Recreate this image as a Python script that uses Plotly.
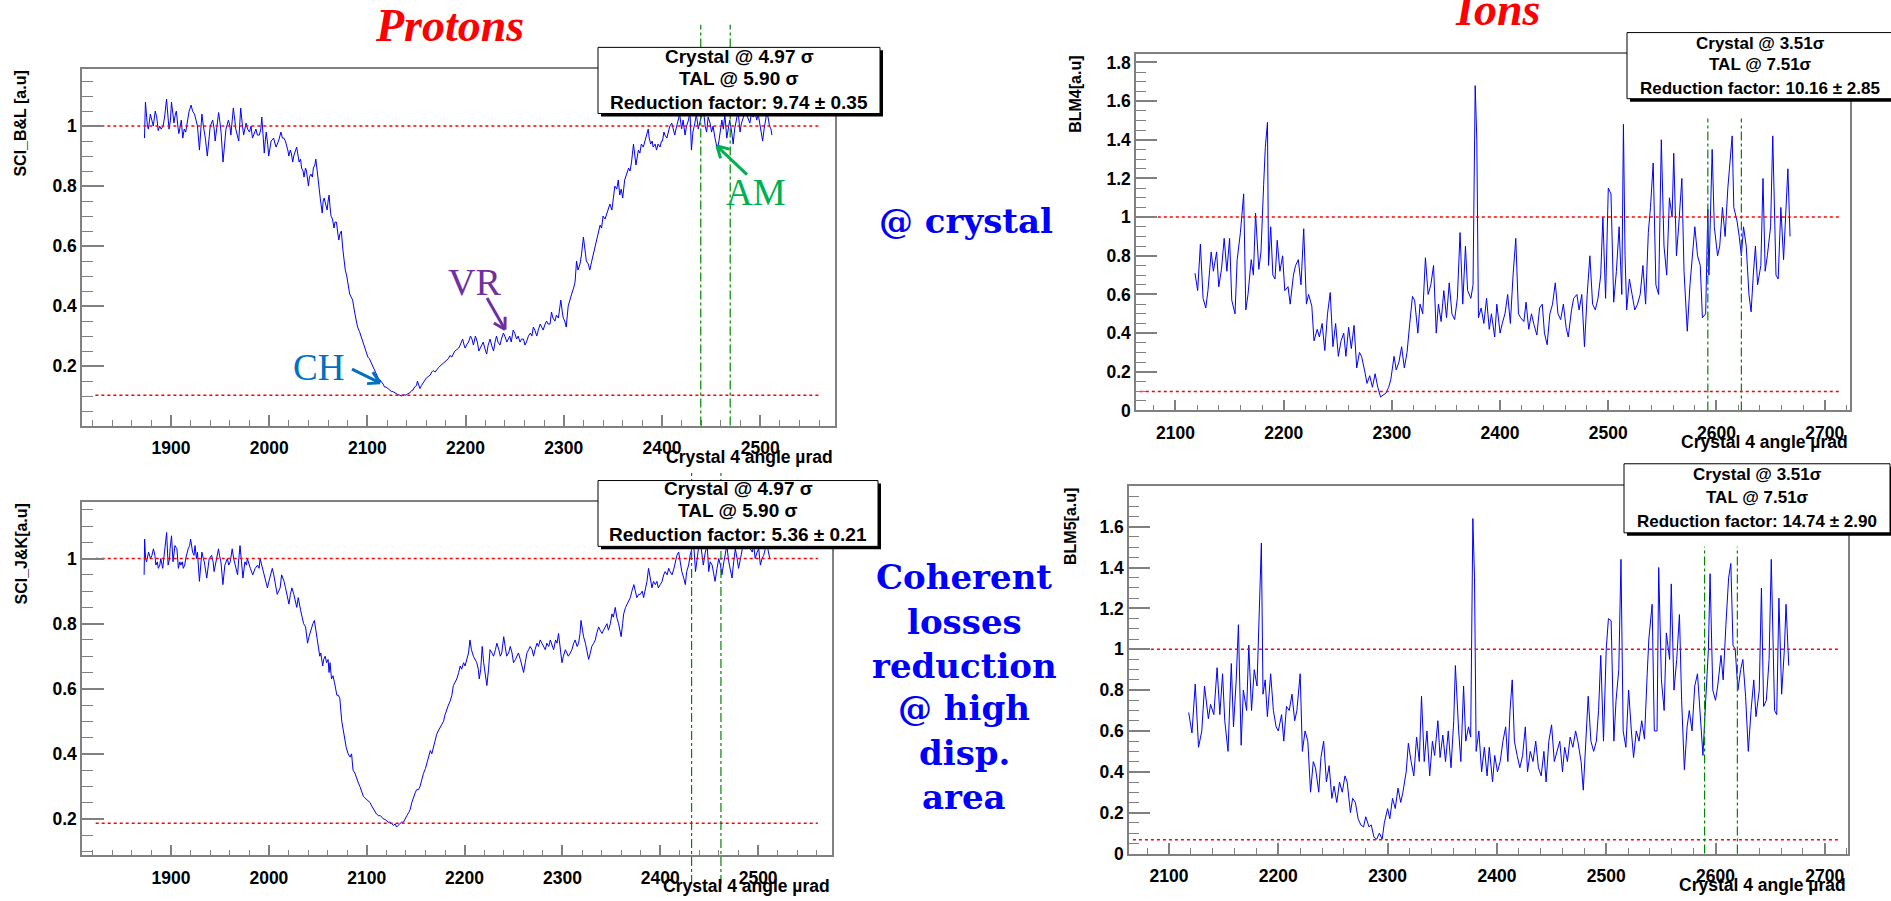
import math
import plotly.graph_objects as go

# ---------------------------------------------------------------------------
# Measured loss signals versus crystal angle (µrad)
# ---------------------------------------------------------------------------

# Protons, scintillator B&L (normalised)
bl_angle = [
    1873, 1874, 1876, 1877, 1879, 1880.5, 1882, 1884, 1885.5, 1887, 1888.5, 1890, 1892, 1893.5, 1895.5, 1897,
    1898, 1899.5, 1900.5, 1902, 1903, 1904.5, 1905.5, 1907, 1908, 1909.5, 1910.5, 1912, 1913.5, 1915, 1917,
    1918.5, 1920.5, 1922, 1924, 1925.5, 1927, 1929, 1930, 1931.5, 1933, 1935, 1937, 1938.5, 1940, 1942.5,
    1944, 1945, 1947, 1948.5, 1950, 1951, 1953, 1954.5, 1956, 1958.5, 1960, 1961, 1963.5, 1965, 1966, 1969,
    1970, 1971, 1972.5, 1974, 1976.5, 1978, 1980, 1981.5, 1983, 1985, 1986.5, 1988, 1990, 1991.5, 1992.5,
    1994, 1995, 1996, 1997, 1998.5, 1999.5, 2001, 2002, 2004.5, 2006, 2007, 2009.5, 2011, 2012, 2013.5,
    2015, 2016.5, 2017.5, 2019, 2020, 2021.5, 2022.5, 2024, 2025, 2027, 2028, 2029.5, 2030.5, 2032, 2033,
    2034.5, 2035.5, 2037, 2038, 2040, 2041, 2042.5, 2044, 2045, 2046.5, 2047.5, 2049.5, 2051, 2052, 2053,
    2054, 2055, 2056, 2057.5, 2059, 2060, 2061, 2062, 2063, 2064.5, 2066, 2067, 2068.5, 2070, 2071, 2072,
    2073.5, 2075, 2076, 2077.5, 2079, 2080.5, 2082, 2083.5, 2085, 2087, 2088.5, 2090, 2092, 2093.5, 2095,
    2097, 2099, 2100.5, 2102, 2104, 2106, 2107.5, 2109, 2111, 2112.5, 2114, 2116, 2117.5, 2119, 2121, 2123,
    2124.5, 2126, 2128, 2130, 2131, 2133, 2134.5, 2136, 2138, 2139.5, 2141, 2143, 2145, 2146.5, 2148, 2150,
    2151, 2152, 2153.5, 2155, 2157, 2158.5, 2160, 2162, 2164, 2165.5, 2167, 2169, 2171, 2172.5, 2174, 2176,
    2177.5, 2179, 2181, 2182.5, 2184, 2186, 2187.5, 2189, 2191, 2193, 2194.5, 2196, 2197, 2198.5, 2199.5,
    2201, 2203, 2205, 2206.5, 2208, 2210, 2212, 2213.5, 2215, 2216.5, 2218, 2219.5, 2221.5, 2223, 2225,
    2226.5, 2228.5, 2230, 2231.5, 2233, 2235, 2236.5, 2238.5, 2240, 2242, 2243.5, 2245, 2246.5, 2248.5,
    2250, 2252, 2253.5, 2255.5, 2257, 2259, 2260.5, 2262, 2264, 2266, 2267.5, 2269, 2270.5, 2272.5, 2274,
    2276, 2277.5, 2279, 2281, 2282.5, 2284, 2286, 2287.5, 2289, 2291, 2292.5, 2294.5, 2296, 2297, 2298.5,
    2299.5, 2301, 2302.5, 2304.5, 2306, 2308, 2310, 2311.5, 2313, 2314.5, 2316.5, 2318, 2320, 2321.5, 2323,
    2325, 2326.5, 2328.5, 2330, 2332, 2333.5, 2335, 2337, 2338.5, 2340, 2342, 2343.5, 2345, 2347, 2349,
    2350.5, 2352, 2354, 2355.5, 2357, 2358.5, 2360, 2362, 2364, 2366, 2367.5, 2369, 2371, 2372, 2373.5,
    2375, 2376, 2377.5, 2379, 2381, 2382.5, 2384, 2386, 2387, 2388.5, 2390, 2391, 2393, 2394.5, 2396, 2398,
    2399.5, 2400.5, 2402, 2403, 2405, 2406.5, 2408, 2410, 2411.5, 2413, 2415, 2416.5, 2418, 2420, 2421.5,
    2423.5, 2425, 2427, 2428.5, 2430, 2431.5, 2433.5, 2435, 2437, 2438.5, 2440.5, 2442, 2444, 2445.5, 2447,
    2449, 2450.5, 2452, 2454, 2455, 2456.5, 2458, 2459, 2461, 2462.5, 2464, 2466, 2467.5, 2469, 2471,
    2472.5, 2474, 2476, 2477.5, 2479.5, 2481, 2483, 2484.5, 2486, 2488, 2489.5, 2491, 2493, 2494.5, 2496.5,
    2498, 2500, 2501.5, 2502.5, 2504, 2505, 2506.5, 2508, 2509.5, 2511, 2512,
]
bl_signal = [
    0.96, 1.08, 1.00, 0.99, 1.04, 1.02, 1.00, 1.05, 1.03, 0.985, 1.00, 0.99, 1.00, 1.03, 1.09, 1.03,
    0.99, 1.02, 1.08, 1.04, 1.01, 1.04, 1.05, 1.00, 0.975, 1.00, 1.02, 0.96, 0.99, 0.98, 1.03,
    1.05, 1.07, 1.05, 1.04, 1.02, 1.00, 0.92, 0.97, 1.04, 1.00, 0.96, 0.90, 0.96, 1.00, 1.02,
    0.99, 0.95, 1.00, 1.045, 1.01, 0.98, 0.88, 0.95, 0.99, 1.02, 1.00, 0.97, 1.06, 1.02, 0.99, 0.95,
    1.00, 1.06, 1.01, 0.97, 1.01, 0.99, 0.98, 1.00, 0.96, 0.98, 0.99, 0.97, 0.97, 0.99, 1.03,
    0.96, 0.91, 0.95, 0.98, 0.94, 0.90, 0.93, 0.95, 0.96, 0.94, 0.93, 0.95, 0.97, 0.98, 0.96,
    0.96, 0.95, 0.94, 0.92, 0.90, 0.92, 0.91, 0.88, 0.90, 0.92, 0.93, 0.90, 0.88, 0.89, 0.86,
    0.85, 0.83, 0.86, 0.85, 0.80, 0.83, 0.84, 0.83, 0.86, 0.87, 0.89, 0.82, 0.79, 0.76, 0.74,
    0.71, 0.75, 0.76, 0.74, 0.72, 0.75, 0.77, 0.73, 0.70, 0.69, 0.66, 0.68, 0.68, 0.64, 0.62, 0.64,
    0.65, 0.59, 0.55, 0.52, 0.50, 0.47, 0.44, 0.43, 0.42, 0.38, 0.36, 0.33, 0.315, 0.30, 0.28,
    0.26, 0.245, 0.23, 0.225, 0.21, 0.195, 0.18, 0.17, 0.16, 0.155, 0.15, 0.14, 0.13, 0.13, 0.125, 0.12,
    0.115, 0.115, 0.11, 0.108, 0.105, 0.103, 0.100, 0.104, 0.102, 0.103, 0.108, 0.11, 0.118, 0.12, 0.13, 0.135,
    0.15, 0.14, 0.125, 0.135, 0.145, 0.15, 0.16, 0.165, 0.17, 0.18, 0.185, 0.18, 0.19, 0.195, 0.20, 0.205,
    0.21, 0.215, 0.22, 0.225, 0.235, 0.23, 0.24, 0.25, 0.255, 0.26, 0.27, 0.28, 0.29, 0.27, 0.26,
    0.27, 0.28, 0.30, 0.29, 0.27, 0.30, 0.28, 0.25, 0.26, 0.27, 0.28, 0.26, 0.24, 0.27, 0.29,
    0.27, 0.25, 0.28, 0.30, 0.28, 0.27, 0.29, 0.31, 0.30, 0.28, 0.29, 0.30, 0.28, 0.32,
    0.31, 0.29, 0.30, 0.28, 0.29, 0.29, 0.27, 0.28, 0.30, 0.31, 0.30, 0.33, 0.32, 0.30, 0.32,
    0.34, 0.33, 0.32, 0.34, 0.35, 0.34, 0.34, 0.38, 0.36, 0.35, 0.37, 0.36, 0.39, 0.42, 0.38,
    0.36, 0.35, 0.33, 0.40, 0.42, 0.44, 0.46, 0.48, 0.55, 0.52, 0.54, 0.57, 0.63, 0.58, 0.55,
    0.54, 0.52, 0.55, 0.57, 0.60, 0.62, 0.64, 0.67, 0.66, 0.70, 0.69, 0.71, 0.72, 0.74, 0.72,
    0.76, 0.80, 0.79, 0.82, 0.77, 0.79, 0.76, 0.82, 0.84, 0.86, 0.85, 0.88, 0.94, 0.90, 0.87,
    0.90, 0.92, 0.91, 0.94, 0.93, 0.95, 0.96, 0.99, 0.96, 0.94, 0.95, 0.93, 0.94, 0.92, 0.94, 0.93,
    0.95, 0.95, 0.98, 0.97, 0.96, 0.98, 1.00, 1.01, 0.99, 0.97, 1.00, 1.02, 1.04, 0.99, 1.02,
    0.97, 1.00, 1.02, 1.05, 0.92, 0.98, 1.01, 1.04, 0.99, 1.01, 1.03, 1.06, 1.00, 0.98, 1.03,
    1.01, 0.98, 1.00, 0.96, 0.94, 0.92, 0.95, 0.97, 1.02, 0.99, 1.04, 0.96, 0.99, 1.02, 0.98,
    0.94, 0.99, 1.02, 1.05, 0.98, 1.01, 1.03, 1.06, 1.04, 1.02, 1.01, 1.04, 1.03, 1.05, 1.02,
    1.04, 1.00, 0.98, 0.95, 0.99, 1.01, 1.04, 1.03, 1.00, 0.99, 0.97,
]

# Protons, scintillator J&K (normalised)
jk_angle = [
    1872.5, 1873, 1874, 1875, 1877, 1878, 1879, 1880.5, 1882, 1883.5, 1884.5, 1886, 1887, 1888.5, 1889.5,
    1891.5, 1893, 1894, 1895.5, 1897, 1898.5, 1899, 1900.5, 1902, 1903, 1904, 1906, 1907.5, 1909, 1910,
    1911.5, 1912.5, 1914, 1915, 1917.5, 1919, 1920, 1922, 1923.5, 1924.5, 1926, 1927, 1929, 1930, 1931.5,
    1933, 1934, 1936.5, 1938, 1939, 1941.5, 1943, 1944, 1945.5, 1946.5, 1948.5, 1949.5, 1951, 1953, 1954,
    1955, 1957.5, 1959, 1960.5, 1962.5, 1964, 1965.5, 1968, 1969, 1970.5, 1972, 1973.5, 1975.5, 1977, 1978,
    1979.5, 1981, 1983.5, 1985, 1986, 1988.5, 1990, 1991, 1992.5, 1994, 1996, 1997, 1998.5, 2000, 2001,
    2003.5, 2005, 2006.5, 2008.5, 2010, 2011.5, 2013, 2014.5, 2015.5, 2017, 2018.5, 2020.5, 2022, 2023.5,
    2025.5, 2027, 2028.5, 2030, 2031, 2032.5, 2034, 2035.5, 2037.5, 2039.5, 2041, 2042, 2043.5, 2045,
    2046.5, 2048, 2049, 2050.5, 2052, 2053, 2055, 2056, 2057.5, 2059, 2060.5, 2061.5, 2062.5, 2064,
    2065.5, 2067, 2068.5, 2069.5, 2071, 2072.5, 2074.5, 2076, 2077, 2079, 2081, 2083, 2084.5, 2086, 2088,
    2090, 2091.5, 2093, 2095, 2096.5, 2098, 2100, 2101.5, 2103.5, 2105, 2107, 2108.5, 2110, 2112, 2114,
    2115.5, 2117, 2119, 2120.5, 2122, 2124, 2125.5, 2127.5, 2129, 2130.5, 2132, 2134, 2135.5, 2137.5,
    2139, 2141, 2143, 2144.5, 2146, 2148, 2149.5, 2151, 2153, 2154.5, 2156, 2158, 2160, 2161.5, 2163,
    2165, 2166.5, 2168, 2170, 2171.5, 2173, 2175, 2177, 2178.5, 2180, 2182, 2183.5, 2185, 2187, 2188.5,
    2190, 2192, 2194, 2195.5, 2197, 2199, 2200.5, 2202.5, 2204, 2205.5, 2207, 2209, 2210.5, 2212.5, 2214,
    2215, 2216.5, 2218, 2219.5, 2221, 2222.8, 2224.5, 2226, 2228, 2229.6, 2231.5, 2233, 2235, 2236.5,
    2238, 2240, 2241.5, 2243, 2245, 2246.7, 2248.5, 2250, 2252, 2253.5, 2255, 2257, 2258.5, 2260.3, 2262,
    2263.7, 2265.5, 2267, 2269, 2270.5, 2272, 2274, 2275.5, 2277.3, 2279, 2280.8, 2282.5, 2284, 2286,
    2287.6, 2289, 2291, 2293, 2294.5, 2296, 2298, 2299.5, 2301, 2303, 2304.5, 2306, 2308, 2309.7, 2311.5,
    2313, 2315, 2316.5, 2318, 2319, 2320.5, 2321.6, 2323.5, 2325, 2326.8, 2328.5, 2330, 2332, 2333.6,
    2335, 2337, 2338.5, 2340.4, 2342, 2344, 2345.5, 2347, 2349, 2350.6, 2352, 2354, 2355.5, 2357.4, 2359,
    2360, 2361.5, 2362.6, 2364.5, 2366, 2368, 2369.4, 2371, 2373, 2374.5, 2376, 2378, 2379.6, 2381.5,
    2383, 2385, 2386.4, 2388, 2389.5, 2391.5, 2393, 2395, 2396.5, 2398, 2400, 2401.8, 2403.5, 2405, 2407,
    2408.6, 2410, 2412, 2414, 2415.4, 2417, 2418.8, 2420.5, 2422, 2424, 2425.6, 2427, 2429, 2430.5,
    2432.4, 2434, 2436, 2437.5, 2439, 2441, 2442.6, 2444, 2446, 2448, 2449.5, 2451, 2453, 2454.5, 2456,
    2458, 2459.7, 2461.5, 2463, 2465, 2466.5, 2468, 2470, 2471.5, 2473.3, 2475, 2476.7, 2478.5, 2480,
    2482, 2483.5, 2485, 2487, 2488.5, 2490.4, 2492, 2494, 2495.5, 2497, 2499, 2500.6, 2502.3, 2504,
    2505.7, 2507.5, 2509, 2510.5, 2512,
]
jk_signal = [
    0.95, 1.06, 1.00, 0.99, 1.02, 1.01, 1.00, 1.01, 1.03, 1.01, 0.98, 0.99, 0.97, 0.98, 1.00,
    0.97, 1.02, 1.05, 1.08, 0.98, 1.00, 1.03, 1.07, 0.99, 1.01, 1.04, 1.03, 0.97, 0.99, 0.98,
    0.99, 0.97, 0.98, 1.00, 1.03, 1.04, 1.06, 1.02, 1.01, 1.04, 1.00, 1.02, 0.93, 0.97, 1.02,
    1.00, 0.99, 0.94, 0.97, 1.00, 1.01, 0.99, 0.96, 0.98, 1.00, 1.03, 1.01, 0.99, 0.92, 0.95,
    0.98, 1.00, 0.98, 0.99, 1.03, 1.00, 0.98, 0.95, 0.99, 1.04, 0.99, 0.94, 0.99, 0.98, 1.00,
    0.98, 0.97, 0.95, 0.96, 0.97, 0.98, 0.97, 1.00, 0.98, 0.96, 0.94, 0.93, 0.91, 0.93, 0.94,
    0.97, 0.95, 0.92, 0.89, 0.90, 0.91, 0.95, 0.94, 0.93, 0.91, 0.89, 0.86, 0.89, 0.91,
    0.89, 0.87, 0.85, 0.88, 0.86, 0.84, 0.82, 0.80, 0.79, 0.74, 0.76, 0.77, 0.79, 0.80,
    0.81, 0.78, 0.76, 0.72, 0.70, 0.71, 0.67, 0.69, 0.70, 0.68, 0.69, 0.65, 0.68, 0.63,
    0.64, 0.62, 0.60, 0.58, 0.58, 0.57, 0.50, 0.47, 0.45, 0.42, 0.40, 0.39, 0.40, 0.35, 0.34,
    0.32, 0.31, 0.30, 0.285, 0.27, 0.265, 0.26, 0.255, 0.25, 0.24, 0.23, 0.225, 0.215, 0.21, 0.21,
    0.205, 0.20, 0.198, 0.195, 0.19, 0.19, 0.185, 0.18, 0.185, 0.175, 0.18, 0.185, 0.19, 0.19,
    0.20, 0.21, 0.22, 0.23, 0.25, 0.27, 0.28, 0.29, 0.29, 0.30, 0.32, 0.34, 0.355, 0.37, 0.39,
    0.41, 0.40, 0.42, 0.44, 0.46, 0.47, 0.48, 0.49, 0.50, 0.52, 0.54, 0.55, 0.56, 0.58, 0.61,
    0.62, 0.63, 0.65, 0.67, 0.66, 0.68, 0.67, 0.69, 0.71, 0.75, 0.72, 0.70, 0.69, 0.68, 0.66,
    0.63, 0.66, 0.73, 0.68, 0.64, 0.61, 0.66, 0.72, 0.71, 0.70, 0.72, 0.74, 0.72, 0.70,
    0.71, 0.76, 0.73, 0.70, 0.71, 0.73, 0.71, 0.68, 0.69, 0.70, 0.71, 0.69, 0.67, 0.65, 0.68,
    0.71, 0.72, 0.73, 0.72, 0.70, 0.72, 0.74, 0.73, 0.75, 0.74, 0.73, 0.72, 0.74, 0.73,
    0.75, 0.74, 0.72, 0.75, 0.74, 0.77, 0.72, 0.68, 0.70, 0.72, 0.71, 0.70, 0.71, 0.72, 0.74,
    0.75, 0.73, 0.74, 0.77, 0.81, 0.78, 0.76, 0.74, 0.72, 0.69, 0.71, 0.73, 0.74, 0.75,
    0.77, 0.79, 0.78, 0.77, 0.78, 0.79, 0.80, 0.78, 0.80, 0.83, 0.82, 0.85, 0.82, 0.80, 0.78,
    0.76, 0.80, 0.83, 0.85, 0.86, 0.87, 0.88, 0.90, 0.92, 0.90, 0.88, 0.89, 0.89, 0.90,
    0.88, 0.91, 0.93, 0.97, 0.94, 0.91, 0.93, 0.92, 0.93, 0.91, 0.92, 0.93, 0.95, 0.96, 0.95,
    0.97, 0.96, 0.95, 0.97, 0.99, 1.01, 1.02, 0.99, 0.96, 0.94, 0.92, 0.96, 0.98, 1.01,
    1.03, 1.05, 0.96, 1.00, 1.03, 1.05, 1.00, 0.98, 1.02, 1.04, 0.96, 0.99, 0.98, 0.95, 0.93,
    0.97, 1.00, 0.98, 0.95, 0.99, 1.02, 1.04, 0.99, 0.97, 0.94, 0.99, 1.03, 1.00, 0.97,
    1.00, 1.02, 1.05, 1.03, 1.04, 1.05, 1.03, 1.02, 1.04, 1.00, 1.02, 1.03, 0.98, 1.00,
    1.01, 1.03, 1.05, 1.02, 1.00,
]

# Ions, beam loss monitor 4
blm4_angle = [
    2118, 2120.5, 2123, 2125.5, 2128, 2130, 2133, 2135, 2138, 2140, 2142.5, 2145, 2147.5, 2150, 2152, 2155,
    2157, 2160, 2163, 2165, 2167, 2170, 2172, 2174, 2177, 2179, 2181.5, 2183, 2185, 2186, 2188, 2190, 2192,
    2194, 2196.5, 2199, 2201, 2204, 2206, 2209, 2211, 2213.5, 2216, 2218.5, 2221, 2223, 2226, 2228, 2231,
    2233, 2235.5, 2238, 2240.5, 2243, 2245.5, 2248, 2250.5, 2253, 2255.5, 2257.5, 2260, 2262.5, 2265,
    2267.5, 2270, 2272, 2275, 2277, 2279.5, 2282, 2284.5, 2287, 2289.5, 2292, 2294.5, 2297, 2299, 2302,
    2304, 2306.5, 2309, 2311.5, 2314, 2316.5, 2319, 2321, 2324, 2326, 2328.5, 2331, 2333.5, 2336, 2338.5,
    2341, 2343, 2345.5, 2348, 2350.5, 2353, 2355.5, 2358, 2360.5, 2363, 2365.5, 2368, 2370, 2373, 2375,
    2377, 2378.5, 2380, 2382.5, 2385, 2387.5, 2390, 2392, 2395, 2397, 2400, 2402, 2404.5, 2407, 2409.5,
    2412, 2414.5, 2417, 2419, 2422, 2424, 2426.5, 2429, 2431.5, 2434, 2436.5, 2439, 2441, 2443.5, 2446,
    2448.5, 2451, 2453.5, 2456, 2458.5, 2461, 2463, 2466, 2468, 2471, 2473, 2475.5, 2478, 2480.5, 2483,
    2485.5, 2488, 2490.5, 2493, 2495, 2497.5, 2500, 2502.5, 2505, 2507.5, 2510, 2512.5, 2514, 2515.5,
    2517, 2519.5, 2522, 2524.5, 2527, 2529.5, 2532, 2534.5, 2537, 2539, 2541.5, 2544, 2546.5, 2549,
    2551.5, 2554, 2556.5, 2559, 2560.5, 2563, 2565, 2568, 2570, 2573, 2575.5, 2578, 2580, 2582.5, 2585,
    2587, 2590, 2592, 2593, 2596, 2598, 2601, 2603, 2605.5, 2608, 2610.5, 2613, 2614.5, 2616, 2619, 2621,
    2623, 2625, 2627.5, 2630, 2632, 2634, 2636, 2638, 2641, 2643, 2645, 2647, 2650, 2652, 2655, 2657,
    2659.5, 2662, 2664.5, 2666, 2668,
]
blm4_signal = [
    0.71, 0.62, 0.86, 0.58, 0.53, 0.62, 0.82, 0.72, 0.82, 0.64, 0.73, 0.89, 0.72, 0.89, 0.57, 0.50,
    0.78, 0.92, 1.12, 0.52, 0.60, 0.78, 0.70, 1.02, 0.73, 0.82, 1.17, 1.36, 1.49, 0.75, 0.95, 0.70, 0.68,
    0.88, 0.72, 0.80, 0.62, 0.64, 0.55, 0.70, 0.75, 0.78, 0.65, 0.94, 0.55, 0.60, 0.54, 0.36, 0.42,
    0.38, 0.45, 0.31, 0.50, 0.61, 0.33, 0.45, 0.28, 0.36, 0.40, 0.28, 0.43, 0.32, 0.44,
    0.22, 0.30, 0.28, 0.20, 0.14, 0.18, 0.12, 0.19, 0.12, 0.07, 0.08, 0.09, 0.12, 0.16, 0.28,
    0.21, 0.25, 0.33, 0.22, 0.30, 0.45, 0.59, 0.57, 0.40, 0.55, 0.50, 0.79, 0.60, 0.65, 0.75,
    0.40, 0.55, 0.46, 0.62, 0.48, 0.66, 0.50, 0.47, 0.58, 0.92, 0.55, 0.85, 0.62, 0.58, 0.65,
    1.68, 1.40, 0.48, 0.53, 0.45, 0.58, 0.42, 0.50, 0.38, 0.55, 0.40, 0.45, 0.50, 0.60, 0.45,
    0.70, 0.89, 0.50, 0.48, 0.46, 0.56, 0.42, 0.50, 0.44, 0.39, 0.53, 0.55, 0.40, 0.34, 0.50,
    0.55, 0.66, 0.50, 0.47, 0.55, 0.43, 0.38, 0.52, 0.58, 0.60, 0.52, 0.60, 0.33, 0.60, 0.80,
    0.55, 0.52, 0.58, 0.70, 1.00, 0.58, 1.15, 1.12, 0.56, 0.72, 0.95, 0.60, 1.48, 0.80,
    0.52, 0.68, 0.60, 0.52, 0.55, 0.60, 0.75, 0.55, 0.92, 1.05, 1.28, 0.65, 0.60, 1.40,
    0.85, 0.70, 1.10, 1.00, 1.33, 0.80, 0.95, 1.20, 0.72, 0.41, 0.65, 0.80, 0.95, 0.80, 0.75,
    0.48, 0.50, 1.04, 0.70, 1.35, 0.95, 0.80, 0.85, 1.05, 0.90, 1.15, 1.35, 1.42, 1.05, 0.98, 0.90,
    0.80, 0.95, 0.85, 0.60, 0.51, 0.70, 0.85, 0.65, 0.75, 1.20, 0.72, 0.80, 0.95, 1.42, 0.70, 0.68,
    1.05, 0.78, 1.10, 1.25, 0.90,
]

# Ions, beam loss monitor 5
blm5_angle = [
    2118, 2121, 2124, 2127, 2130, 2132.5, 2136, 2138, 2141, 2144, 2146.5, 2149, 2151, 2154, 2157, 2159,
    2161.5, 2163.5, 2166, 2168, 2171, 2173, 2175.5, 2178, 2180.5, 2182.5, 2184.5, 2186, 2188, 2190, 2193,
    2195.5, 2198, 2200, 2203, 2205, 2207.5, 2210, 2212.5, 2215, 2217, 2220, 2222, 2224.5, 2227, 2229.5,
    2232, 2234, 2237, 2239, 2241.5, 2244, 2246.5, 2249, 2251, 2253.5, 2256, 2258.5, 2261, 2263, 2266,
    2268, 2270.5, 2273, 2275.5, 2278, 2280, 2283, 2285, 2287.5, 2290, 2292.5, 2295, 2297, 2300, 2302,
    2304.5, 2307, 2309.5, 2312, 2314, 2317, 2319, 2321.5, 2324, 2326.5, 2329, 2331, 2333.5, 2336, 2338.5,
    2341, 2343, 2346, 2348, 2350.5, 2353, 2355.5, 2358, 2360.5, 2362, 2365, 2367, 2369.5, 2371.5, 2374,
    2376, 2378, 2379.5, 2381, 2383.5, 2386, 2388.5, 2391, 2393, 2396, 2398, 2400.5, 2403, 2405.5, 2408,
    2410, 2412, 2414, 2416, 2418.5, 2421, 2423.5, 2426, 2428, 2430.5, 2433, 2435.5, 2438, 2440.5, 2443,
    2445, 2447.5, 2450, 2452.5, 2455, 2457.5, 2460, 2462, 2464.5, 2467, 2469.5, 2472, 2474, 2477, 2479,
    2481.5, 2483.5, 2486, 2488.5, 2491, 2493, 2495, 2497.5, 2500, 2502, 2504.5, 2507, 2509, 2511.5,
    2513.5, 2515.5, 2518, 2520.5, 2523, 2525, 2527.5, 2530, 2532.5, 2535, 2537.5, 2539, 2542, 2544,
    2546.5, 2548, 2550.5, 2553, 2555, 2558, 2559.5, 2562, 2564.5, 2567, 2569, 2571.5, 2574, 2576,
    2578.5, 2581, 2583.5, 2586, 2588.5, 2591, 2593.5, 2595, 2597.5, 2600, 2602, 2605, 2607, 2609.5,
    2612, 2614, 2616, 2618, 2620.5, 2623, 2625, 2627.5, 2630, 2632.5, 2635, 2637, 2640, 2642, 2644,
    2646.5, 2649, 2651, 2654, 2656, 2658, 2660.5, 2663, 2664.5, 2667,
]
blm5_signal = [
    0.69, 0.59, 0.83, 0.52, 0.60, 0.82, 0.66, 0.73, 0.68, 0.91, 0.68, 0.88, 0.65, 0.50, 0.93, 0.62,
    0.85, 1.12, 0.53, 0.80, 0.70, 1.02, 0.70, 0.90, 0.82, 1.20, 1.52, 0.78, 0.85, 0.67, 0.88,
    0.70, 0.62, 0.60, 0.68, 0.55, 0.72, 0.70, 0.78, 0.65, 0.70, 0.88, 0.50, 0.60, 0.55, 0.30,
    0.45, 0.42, 0.30, 0.47, 0.55, 0.35, 0.43, 0.27, 0.33, 0.25, 0.35, 0.30, 0.38, 0.35, 0.20,
    0.27, 0.25, 0.17, 0.14, 0.13, 0.18, 0.13, 0.14, 0.08, 0.07, 0.10, 0.07, 0.15, 0.22, 0.17,
    0.27, 0.22, 0.32, 0.25, 0.30, 0.40, 0.54, 0.45, 0.38, 0.57, 0.45, 0.77, 0.45, 0.60, 0.38,
    0.55, 0.48, 0.65, 0.47, 0.58, 0.45, 0.60, 0.42, 0.65, 0.92, 0.60, 0.45, 0.82, 0.55, 0.62,
    0.57, 1.64, 1.35, 0.50, 0.60, 0.40, 0.52, 0.38, 0.52, 0.35, 0.48, 0.40, 0.45, 0.55, 0.62,
    0.45, 0.70, 0.85, 0.55, 0.48, 0.42, 0.48, 0.62, 0.40, 0.50, 0.45, 0.55, 0.42, 0.38, 0.50,
    0.35, 0.55, 0.63, 0.45, 0.50, 0.55, 0.40, 0.52, 0.45, 0.57, 0.52, 0.60, 0.55, 0.45, 0.31,
    0.60, 0.77, 0.55, 0.50, 0.55, 0.70, 0.97, 0.55, 1.00, 1.15, 1.14, 0.55, 0.75, 0.90,
    1.44, 0.60, 0.52, 0.80, 0.60, 0.47, 0.60, 0.55, 0.65, 0.56, 0.88, 1.05, 1.22, 0.60,
    0.60, 1.40, 0.85, 0.70, 1.08, 0.95, 1.32, 0.80, 0.95, 1.17, 0.75, 0.41, 0.62, 0.70,
    0.60, 0.82, 0.88, 0.70, 0.48, 0.75, 1.00, 1.37, 0.80, 0.75, 0.82, 0.97, 0.85, 1.12,
    1.35, 1.42, 1.02, 1.00, 0.80, 0.90, 0.95, 0.77, 0.50, 0.70, 0.85, 0.67, 0.80, 1.30, 0.72,
    0.75, 0.95, 1.44, 0.70, 0.68, 1.25, 0.78, 1.00, 1.22, 0.92,
]

# Collimator settings and reduction factors shown in each panel
crystal_sigma = ["4.97", "4.97", "3.51", "3.51"]
tal_sigma = ["5.90", "5.90", "7.51", "7.51"]
reduction_factor = [9.74, 5.36, 10.16, 14.74]
reduction_error = [0.35, 0.21, 2.85, 2.90]
# angular window marked by the vertical lines (µrad)
window_angles = [[2439.5, 2469.5], [2432, 2462], [2592, 2623], [2590, 2620]]
# horizontal extent of the reference levels
level_span = [[1823, 2561], [1823, 2561], [2067, 2713], [2067, 2713]]
y_titles = ["SCI_B&L [a.u]", "SCI_J&K[a.u]", "BLM4[a.u]", "BLM5[a.u]"]
x_title = "Crystal 4 angle µrad"

# ---------------------------------------------------------------------------
# Page geometry (pixels) and helpers
# ---------------------------------------------------------------------------
W, H = 1891, 901


def fx(p):
    return p / W


def fy(p):
    return 1 - p / H


GREY = "#808080"
TICKFONT = dict(family="Liberation Sans", size=17.5, color="black", weight="bold")

# frame boxes (left, right, top, bottom) and axis ranges for the 4 panels
panels = [
    dict(box=(82, 835, 67.5, 429.3), xr=[1809.4, 2576.2], yr=[0.0016, 1.1916],
         ytitle_x=21, ylen=22, xlen=11, line_top=23, title_y=461, legend=(598, 880, 46, 113),
         legend_rows=(55.1, 77.4, 101.7), legend_size=19, sep=" "),
    dict(box=(82, 832, 506.7, 865), xr=[1809.0, 2575.5], yr=[0.0877, 1.174],
         ytitle_x=21, ylen=22, xlen=11, line_top=475, line_bottom=894, title_y=896,
         legend=(598, 878, 485, 551.7), legend_rows=(493.4, 515.1, 540.1), legend_size=19, sep=" "),
    dict(box=(1136, 1850, 53, 414), xr=[2063.5, 2723.4], yr=[0.0, 1.842],
         ytitle_x=1076, ylen=21, xlen=11, line_top=118, title_y=446, legend=(1627, 1893, 31, 98),
         legend_rows=(42, 63.5, 88), legend_size=17, sep=""),
    dict(box=(1129, 1848, 491, 863), xr=[2063.4, 2721.2], yr=[0.0, 1.797],
         ytitle_x=1071, ylen=21, xlen=11, line_top=552, title_y=895, legend=(1624, 1890, 468, 538),
         legend_rows=(479, 502, 527), legend_size=17, sep=""),
]

series = [
    (bl_angle, bl_signal),
    (jk_angle, jk_signal),
    (blm4_angle, blm4_signal),
    (blm5_angle, blm5_signal),
]

fig = go.Figure()
shapes = []
annotations = []
layout_axes = {}

for i, (pan, (ang, sig)) in enumerate(zip(panels, series)):
    n = "" if i == 0 else str(i + 1)
    xa, ya = "x" + n, "y" + n
    left, right, top, bottom = pan["box"]

    # measured signal
    fig.add_trace(go.Scatter(x=ang, y=sig, mode="lines", xaxis=xa, yaxis=ya,
                             line=dict(color="#0000ff", width=1), showlegend=False,
                             hoverinfo="skip"))
    # reference levels: unity and 1 / reduction factor
    lo, hi = level_span[i]
    for level in (1.0, 1.0 / reduction_factor[i]):
        fig.add_trace(go.Scatter(x=[lo, hi], y=[level, level], mode="lines", xaxis=xa, yaxis=ya,
                                 line=dict(color="#ff0000", width=1.5, dash="dot"),
                                 showlegend=False, hoverinfo="skip"))

    layout_axes["xaxis" + n] = dict(
        domain=[fx(left), fx(right)], range=pan["xr"], anchor=ya,
        showline=True, mirror=True, linecolor=GREY, linewidth=1.5,
        ticks="inside", ticklen=pan["xlen"], tickwidth=1.5, tickcolor=GREY,
        tick0=0, dtick=100, tickfont=TICKFONT, ticklabelstandoff=6,
        minor=dict(dtick=20, ticks="inside", ticklen=pan["xlen"] / 2, tickwidth=1, tickcolor=GREY),
        showgrid=False, zeroline=False,
    )
    layout_axes["yaxis" + n] = dict(
        domain=[fy(bottom), fy(top)], range=pan["yr"], anchor=xa,
        showline=True, mirror=True, linecolor=GREY, linewidth=1.5,
        ticks="inside", ticklen=pan["ylen"], tickwidth=1.5, tickcolor=GREY,
        tick0=0, dtick=0.2, tickfont=TICKFONT,
        minor=dict(dtick=0.05, ticks="inside", ticklen=pan["ylen"] / 2, tickwidth=1, tickcolor=GREY),
        showgrid=False, zeroline=False,
    )

    # angular window lines
    y_low = pan.get("line_bottom", bottom)
    for a in window_angles[i]:
        shapes.append(dict(type="line", xref=xa, yref="paper", x0=a, x1=a,
                           y0=fy(y_low), y1=fy(pan["line_top"]), layer="above",
                           line=dict(color="#008800", width=1.2, dash="dashdot")))

    # info box with drop shadow
    bl, br, bt, bb = pan["legend"]
    shapes.append(dict(type="rect", xref="paper", yref="paper", x0=fx(bl + 3), x1=fx(br + 3),
                       y0=fy(bb + 3), y1=fy(bt + 3), fillcolor="black", line=dict(width=0),
                       layer="above"))
    shapes.append(dict(type="rect", xref="paper", yref="paper", x0=fx(bl), x1=fx(br),
                       y0=fy(bb), y1=fy(bt), fillcolor="white", line=dict(color="black", width=1),
                       layer="above"))
    cx = (bl + br) / 2
    sep = pan["sep"]
    rows = [
        f"Crystal @ {crystal_sigma[i]}{sep}σ",
        f"TAL @ {tal_sigma[i]}{sep}σ",
        f"Reduction factor: {reduction_factor[i]:.2f} ± {reduction_error[i]:.2f}",
    ]
    for text, ry in zip(rows, pan["legend_rows"]):
        annotations.append(dict(text=f"<b>{text}</b>", x=fx(cx), y=fy(ry), xref="paper", yref="paper",
                                showarrow=False, xanchor="center", yanchor="middle",
                                font=dict(family="Liberation Sans", size=pan["legend_size"], color="black")))

    # axis titles
    annotations.append(dict(text=f"<b>{x_title}</b>", x=fx(right), y=fy(pan["title_y"]),
                            xref="paper", yref="paper", showarrow=False, xanchor="right",
                            yanchor="middle",
                            font=dict(family="Liberation Sans", size=17.5, color="black")))
    annotations.append(dict(text=f"<b>{y_titles[i]}</b>", x=fx(pan["ytitle_x"]), y=fy(top),
                            xref="paper", yref="paper", showarrow=False, xanchor="center",
                            yanchor="top", textangle=-90,
                            font=dict(family="Liberation Sans", size=16, color="black")))


def label(text, x, y, size, color, family, bold=False, italic=False):
    if italic:
        text = f"<i>{text}</i>"
    if bold:
        text = f"<b>{text}</b>"
    annotations.append(dict(text=text, x=fx(x), y=fy(y), xref="paper", yref="paper",
                            showarrow=False, xanchor="center", yanchor="middle",
                            font=dict(family=family, size=size, color=color)))


def arrow(x0, y0, x1, y1, color, width=3, head=13, spread=30):
    dx, dy = x1 - x0, y1 - y0
    length = math.hypot(dx, dy)
    ux, uy = -dx / length, -dy / length
    segs = [(x0, y0, x1, y1)]
    for s in (1, -1):
        a = math.radians(spread * s)
        hx = ux * math.cos(a) - uy * math.sin(a)
        hy = ux * math.sin(a) + uy * math.cos(a)
        segs.append((x1, y1, x1 + head * hx, y1 + head * hy))
    for a0, b0, a1, b1 in segs:
        shapes.append(dict(type="line", xref="paper", yref="paper", x0=fx(a0), y0=fy(b0),
                           x1=fx(a1), y1=fy(b1), layer="above",
                           line=dict(color=color, width=width)))


# headings
label("Protons", 449, 23.5, 46, "#ff0000", "Liberation Serif", bold=True, italic=True)
label("Ions", 1497, 7.5, 46, "#ff0000", "Liberation Serif", bold=True, italic=True)

# channeling / volume reflection / amorphous markers
label("CH", 318, 370, 37, "#0070c0", "Liberation Serif")
arrow(352, 372, 380, 386, "#0070c0")
label("VR", 475, 284, 38, "#7030a0", "Liberation Serif")
arrow(487, 300, 505, 332, "#7030a0")
label("AM", 756, 193, 37, "#00b050", "Liberation Serif")
arrow(747, 175, 717, 146, "#00b050")

# side notes
label("@ crystal", 966, 222, 34, "#0000ff", "DejaVu Serif", bold=True)
note_lines = ["Coherent", "losses", "reduction", "@ high", "disp.", "area"]
note_rows = [583, 628, 673, 716, 761, 806]
for t, r in zip(note_lines, note_rows):
    label(t, 964, r, 34, "#0000ff", "DejaVu Serif", bold=True)

fig.update_layout(
    width=W, height=H, autosize=False,
    margin=dict(l=0, r=0, t=0, b=0),
    paper_bgcolor="white", plot_bgcolor="white",
    showlegend=False,
    shapes=shapes, annotations=annotations,
    **layout_axes,
)

fig.write_html("out.html")
